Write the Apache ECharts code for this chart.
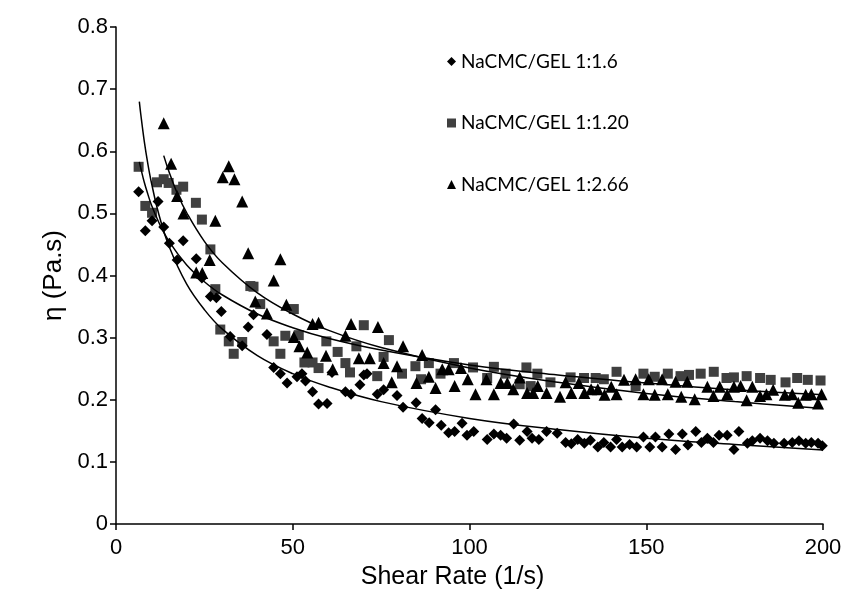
<!DOCTYPE html>
<html>
<head>
<meta charset="utf-8">
<script src="https://cdn.jsdelivr.net/npm/echarts@6/dist/echarts.min.js"></script>
<style>
html,body{margin:0;padding:0;background:#fff;}
#chart{width:843px;height:599px;}
</style>
</head>
<body>
<div id="chart"></div>
<script>
// ---- data ----
const seriesNames = ['NaCMC/GEL 1:1.6', 'NaCMC/GEL 1:1.20', 'NaCMC/GEL 1:2.66'];
const xTicks = [0, 50, 100, 150, 200];
const yTicks = [0, 0.1, 0.2, 0.3, 0.4, 0.5, 0.6, 0.7, 0.8];

const diamondX = [6.4,8.3,10.2,11.9,13.5,15.1,17.3,19.0,22.7,24.3,26.7,28.4,29.8,32.3,35.7,37.4,38.9,42.7,44.6,46.5,48.4,51.2,52.6,53.6,55.6,57.3,59.7,61.1,64.9,66.5,69.0,70.1,71.0,73.9,75.7,79.5,81.2,84.9,86.6,88.6,90.4,92.0,94.1,95.8,97.9,99.3,101.2,105.0,106.9,108.8,110.5,112.5,114.2,116.3,117.7,119.6,121.8,124.8,127.2,128.8,130.6,132.5,134.2,136.3,138.0,139.9,141.6,143.2,145.3,147.3,149.2,151.0,152.6,154.5,156.4,158.3,160.2,161.8,164.0,165.6,167.3,169.0,170.6,172.9,174.8,176.2,178.6,180.0,182.2,184.3,186.1,189.0,191.3,193.2,195.1,196.7,198.6,199.8];
const diamondY = [0.535,0.472,0.488,0.519,0.478,0.452,0.425,0.456,0.427,0.396,0.366,0.364,0.342,0.302,0.287,0.317,0.337,0.305,0.252,0.242,0.227,0.237,0.242,0.230,0.213,0.193,0.194,0.244,0.213,0.209,0.224,0.240,0.242,0.209,0.216,0.207,0.188,0.195,0.170,0.163,0.184,0.159,0.147,0.149,0.162,0.143,0.149,0.136,0.145,0.143,0.138,0.161,0.135,0.149,0.138,0.136,0.149,0.146,0.131,0.129,0.136,0.130,0.135,0.124,0.131,0.124,0.136,0.124,0.128,0.124,0.140,0.124,0.140,0.124,0.145,0.120,0.145,0.127,0.149,0.131,0.138,0.131,0.143,0.143,0.120,0.149,0.130,0.134,0.138,0.134,0.130,0.130,0.131,0.134,0.130,0.131,0.130,0.126];

const squareX = [6.4,8.3,10.2,11.6,13.5,14.9,17.1,19.0,22.6,24.3,26.7,28.1,29.5,31.9,33.3,35.7,38.0,38.9,40.8,44.6,46.5,47.9,50.3,51.7,53.3,55.6,57.3,59.5,62.7,64.9,66.2,68.0,70.1,73.9,75.7,77.2,80.9,84.7,86.3,88.5,91.8,95.6,101.0,105.0,106.9,110.2,114.2,116.1,117.3,119.2,122.9,128.6,132.4,135.7,138.0,141.6,147.0,149.2,152.4,156.1,159.7,162.1,165.4,169.1,172.7,174.8,178.4,182.2,185.2,189.4,192.7,195.7,199.3];
const squareY = [0.575,0.512,0.501,0.550,0.555,0.549,0.538,0.543,0.517,0.490,0.442,0.378,0.313,0.294,0.274,0.293,0.383,0.382,0.354,0.294,0.274,0.303,0.346,0.304,0.260,0.260,0.251,0.294,0.277,0.259,0.244,0.286,0.320,0.238,0.269,0.296,0.242,0.254,0.233,0.259,0.242,0.259,0.252,0.235,0.253,0.242,0.225,0.252,0.222,0.242,0.228,0.236,0.235,0.235,0.233,0.245,0.222,0.242,0.237,0.242,0.238,0.240,0.242,0.245,0.235,0.236,0.238,0.235,0.232,0.228,0.235,0.232,0.231];

const triangleX = [13.5,15.6,17.3,19.1,22.7,24.4,26.5,28.1,30.2,31.9,33.5,35.7,37.4,39.4,42.7,44.6,46.5,48.2,50.3,51.9,54.1,55.6,57.3,59.4,61.3,64.9,66.5,68.7,71.8,74.1,75.7,78.0,79.5,81.2,85.0,86.6,88.5,90.4,92.3,94.1,95.8,97.6,99.5,101.7,104.8,106.9,108.8,110.7,112.4,114.2,116.3,118.0,119.3,121.8,125.6,127.2,128.8,130.9,132.5,134.4,136.3,138.2,140.1,141.6,143.7,147.0,149.2,150.7,152.4,154.5,156.1,158.3,159.9,161.6,163.7,167.3,169.0,170.8,172.9,174.8,176.7,178.4,180.0,182.2,184.0,185.9,189.2,191.3,193.0,195.1,196.7,198.6,199.6];
const triangleY = [0.645,0.580,0.528,0.500,0.405,0.404,0.425,0.488,0.558,0.576,0.555,0.519,0.436,0.358,0.339,0.392,0.426,0.353,0.301,0.286,0.276,0.322,0.324,0.271,0.249,0.303,0.322,0.267,0.267,0.317,0.259,0.228,0.254,0.286,0.227,0.272,0.237,0.219,0.249,0.249,0.222,0.251,0.233,0.209,0.233,0.209,0.227,0.227,0.217,0.236,0.211,0.211,0.222,0.211,0.205,0.228,0.211,0.227,0.211,0.217,0.217,0.208,0.221,0.209,0.232,0.233,0.209,0.233,0.208,0.233,0.209,0.229,0.205,0.229,0.201,0.221,0.206,0.221,0.209,0.221,0.222,0.199,0.221,0.206,0.209,0.216,0.208,0.209,0.195,0.208,0.209,0.194,0.209];

// trend curves
const trendDiamondX = [6.6,7,8,9,10,12,15,20,25,30,40,50,60,75,100,125,150,175,200];
const trendDiamondY = [0.680,0.660,0.616,0.580,0.550,0.501,0.447,0.386,0.345,0.314,0.271,0.242,0.221,0.197,0.170,0.152,0.138,0.128,0.119];
const trendSquareX = [6.6,7,8,9,10,12,15,20,25,30,40,50,60,75,100,125,150,175,200];
const trendSquareY = [0.583,0.573,0.550,0.531,0.514,0.487,0.455,0.417,0.390,0.369,0.338,0.316,0.299,0.280,0.256,0.240,0.227,0.216,0.208];
const trendTriangleX = [13.5,15,17.5,20,25,30,40,50,60,75,100,125,150,175,200];
const trendTriangleY = [0.593,0.567,0.530,0.501,0.455,0.421,0.372,0.338,0.312,0.284,0.251,0.228,0.210,0.197,0.186];

function zip(xs, ys) { return xs.map((x, i) => [x, ys[i]]); }

const axisFont = "'Liberation Sans', Arial, sans-serif";
const chart = echarts.init(document.getElementById('chart'), null, {renderer: 'canvas'});

const lineStyle = {color: '#000', width: 1.5};
chart.setOption({
  animation: false,
  backgroundColor: '#fff',
  grid: {left: 116, right: 20, top: 27, bottom: 75, containLabel: false, outerBoundsMode: 'none'},
  legend: {
    data: seriesNames,
    orient: 'vertical',
    left: 442,
    top: 46,
    itemGap: 40.5,
    itemWidth: 9,
    itemHeight: 9,
    textStyle: {fontFamily: 'Lato, "Open Sans", sans-serif', fontSize: 19, color: '#000', lineHeight: 21},
    selectedMode: false
  },
  xAxis: {
    type: 'value', min: xTicks[0], max: xTicks[xTicks.length - 1], interval: 50,
    name: 'Shear Rate (1/s)', nameLocation: 'middle', nameGap: 41,
    nameTextStyle: {fontFamily: axisFont, fontSize: 25, color: '#000', padding: [0, 34, 0, 0]},
    axisLine: {lineStyle: {color: '#000', width: 1.5}},
    axisTick: {show: true, inside: false, length: 6, lineStyle: {color: '#000', width: 1.5}},
    axisLabel: {fontFamily: axisFont, fontSize: 22, color: '#000', margin: 13},
    splitLine: {show: false}
  },
  yAxis: {
    type: 'value', min: yTicks[0], max: yTicks[yTicks.length - 1], interval: 0.1,
    name: 'η (Pa.s)', nameLocation: 'middle', nameGap: 44, nameRotate: 90,
    nameTextStyle: {fontFamily: axisFont, fontSize: 26, color: '#000'},
    axisLine: {show: true, lineStyle: {color: '#000', width: 1.5}},
    axisTick: {show: true, inside: false, length: 6, lineStyle: {color: '#000', width: 1.5}},
    axisLabel: {fontFamily: axisFont, fontSize: 22, color: '#000', margin: 8,
      formatter: v => (Math.round(v * 10) / 10).toString()},
    splitLine: {show: false}
  },
  series: [
    {name: seriesNames[0], type: 'scatter', symbol: 'diamond', symbolSize: 11,
     itemStyle: {color: '#000', opacity: 1}, data: zip(diamondX, diamondY), z: 3},
    {name: seriesNames[1], type: 'scatter', symbol: 'rect', symbolSize: 10,
     itemStyle: {color: '#404040', opacity: 1}, data: zip(squareX, squareY), z: 2},
    {name: seriesNames[2], type: 'scatter', symbol: 'triangle', symbolSize: 12,
     itemStyle: {color: '#000', opacity: 1}, data: zip(triangleX, triangleY), z: 4},
    {type: 'line', data: zip(trendDiamondX, trendDiamondY), smooth: 0.4, showSymbol: false, symbol: 'none', lineStyle: lineStyle, z: 5, silent: true},
    {type: 'line', data: zip(trendSquareX, trendSquareY), smooth: 0.4, showSymbol: false, symbol: 'none', lineStyle: lineStyle, z: 5, silent: true},
    {type: 'line', data: zip(trendTriangleX, trendTriangleY), smooth: 0.4, showSymbol: false, symbol: 'none', lineStyle: lineStyle, z: 5, silent: true}
  ]
});
</script>
</body>
</html>
